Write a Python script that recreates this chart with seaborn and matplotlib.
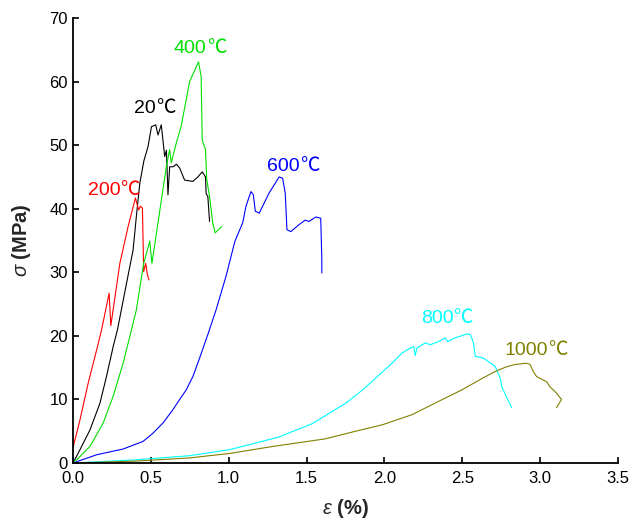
"""Stress-strain curves of specimens after exposure to different temperatures."""

import matplotlib
matplotlib.use("Agg")
import matplotlib.pyplot as plt
import pandas as pd
import seaborn as sns

# strain (%) / stress (MPa), one pair of lists per temperature
strain_20 = [0, 0.045, 0.109, 0.173, 0.215, 0.258, 0.286, 0.344, 0.386, 0.407, 0.429,
             0.455, 0.482, 0.504, 0.531, 0.546, 0.567, 0.589, 0.6, 0.61, 0.621,
             0.642, 0.665, 0.685, 0.717, 0.77, 0.802, 0.83, 0.851, 0.855, 0.866, 0.877]
stress_20 = [0, 2.1, 5.2, 9.4, 13.6, 18.3, 21.0, 28.3, 33.5, 38.8, 44.0,
             47.5, 49.8, 52.9, 53.2, 51.6, 53.2, 48.2, 49.2, 42.2, 46.6,
             46.6, 47.0, 46.4, 44.5, 44.3, 45.0, 45.8, 45.0, 42.4, 41.9, 38.0]

strain_200 = [0, 0.045, 0.098, 0.152, 0.184, 0.232, 0.243, 0.301, 0.354, 0.401,
              0.422, 0.433, 0.446, 0.454, 0.467, 0.478, 0.488]
stress_200 = [2.4, 6.8, 12.6, 17.8, 21.0, 26.7, 21.6, 31.4, 37.2, 41.7,
              39.8, 40.4, 40.1, 30.1, 31.4, 29.6, 28.8]

strain_400 = [0, 0.024, 0.109, 0.194, 0.258, 0.322, 0.376, 0.407, 0.454, 0.493,
              0.507, 0.546, 0.6, 0.621, 0.631, 0.663, 0.695, 0.749, 0.806, 0.823,
              0.83, 0.851, 0.859, 0.877, 0.898, 0.913, 0.955]
stress_400 = [0.2, 0.5, 2.6, 6.3, 10.5, 15.7, 21.0, 24.1, 31.4, 34.9,
              31.4, 37.8, 46.7, 49.3, 47.2, 50.3, 53.0, 60.0, 63.1, 60.8,
              50.8, 49.3, 44.6, 41.9, 37.7, 36.2, 37.2]

strain_600 = [0, 0.152, 0.322, 0.45, 0.514, 0.578, 0.642, 0.685, 0.727, 0.77,
              0.813, 0.87, 0.919, 0.983, 1.04, 1.09, 1.111, 1.143, 1.158, 1.171,
              1.196, 1.26, 1.324, 1.346, 1.363, 1.374, 1.399, 1.452, 1.491, 1.516,
              1.559, 1.591, 1.598, 1.598]
stress_600 = [0, 1.3, 2.2, 3.4, 4.7, 6.3, 8.4, 10.0, 11.5, 13.6,
              16.5, 20.5, 24.1, 29.4, 34.9, 37.8, 40.4, 42.7, 42.2, 39.6,
              39.3, 42.5, 45.0, 44.8, 42.5, 36.7, 36.4, 37.5, 38.2, 38.0,
              38.7, 38.5, 32.0, 29.9]

strain_800 = [0, 0.4, 0.749, 1.005, 1.15, 1.324, 1.537, 1.751, 1.86, 1.964,
              2.04, 2.113, 2.167, 2.188, 2.198, 2.209, 2.263, 2.295, 2.348, 2.391,
              2.406, 2.455, 2.529, 2.551, 2.572, 2.583, 2.636, 2.711, 2.743, 2.753,
              2.817]
stress_800 = [0, 0.5, 1.15, 2.1, 3.0, 4.1, 6.2, 9.4, 11.5, 13.8,
              15.5, 17.3, 18.1, 18.3, 16.9, 18.1, 18.9, 18.6, 19.1, 19.7,
              19.1, 19.7, 20.3, 20.2, 18.9, 16.8, 16.5, 15.2, 13.4, 12.0,
              8.7]

strain_1000 = [0, 0.4, 0.749, 1.005, 1.281, 1.62, 1.815, 1.985, 2.177, 2.348,
               2.497, 2.62, 2.711, 2.78, 2.839, 2.913, 2.935, 2.956, 2.977, 3.009,
               3.041, 3.063, 3.105, 3.137, 3.105]
stress_1000 = [0, 0.3, 0.8, 1.5, 2.6, 3.8, 5.0, 6.0, 7.6, 9.7,
               11.5, 13.2, 14.4, 15.1, 15.5, 15.7, 15.5, 14.4, 13.6, 13.2,
               12.8, 12.0, 11.0, 10.0, 8.7]

temps = ["20", "200", "400", "600", "800", "1000"]
colors = ["#000000", "#ff0000", "#00e000", "#0000ff", "#00ffff", "#808000"]

# label anchor: where the number ends and the ℃ sign starts, on the text baseline
label_x = [0.531, 0.305, 0.859, 1.457, 2.444, 3.048]
label_y = [55.1, 42.2, 64.5, 45.9, 22.0, 17.0]

curves = [(strain_20, stress_20), (strain_200, stress_200), (strain_400, stress_400),
          (strain_600, stress_600), (strain_800, stress_800), (strain_1000, stress_1000)]
frames = []
for t, (e, s) in zip(temps, curves):
    frames.append(pd.DataFrame({"strain": e, "stress": s, "temp": t}))
df = pd.concat(frames, ignore_index=True)

sns.set_style("ticks")
plt.rcParams["font.family"] = ["Liberation Sans", "Noto Sans CJK SC", "DejaVu Sans"]
plt.rcParams["mathtext.fontset"] = "custom"
plt.rcParams["mathtext.it"] = "Liberation Sans:italic"
plt.rcParams["mathtext.rm"] = "Liberation Sans"

fig = plt.figure(figsize=(6.33, 5.22), dpi=100)
ax = fig.add_axes([0.1153, 0.113, 0.861, 0.8525])

sns.lineplot(data=df, x="strain", y="stress", hue="temp", hue_order=temps,
             palette=dict(zip(temps, colors)), sort=False, estimator=None,
             linewidth=0.8, legend=False, ax=ax)

for t, c, x, y in zip(temps, colors, label_x, label_y):
    ax.text(x, y, t, color=c, fontsize=14, ha="right", va="baseline",
            family="Liberation Sans")
    ax.text(x, y, "℃", color=c, fontsize=14, ha="left", va="baseline",
            family="Noto Sans CJK SC")

ax.set_xlim(0, 3.5)
ax.set_ylim(0, 70)
ax.set_xticks([0, 0.5, 1.0, 1.5, 2.0, 2.5, 3.0, 3.5])
ax.set_xticklabels(["0.0", "0.5", "1.0", "1.5", "2.0", "2.5", "3.0", "3.5"])
ax.set_yticks(range(0, 71, 10))
ax.tick_params(direction="in", length=4, width=1.2, labelsize=12, colors="black")
ax.tick_params(axis="x", pad=6)
for side in ["left", "bottom"]:
    ax.spines[side].set_linewidth(1.3)
    ax.spines[side].set_color("black")
sns.despine(ax=ax)

ax.set_xlabel(r"$\varepsilon$ (%)", fontsize=14.5, fontweight="bold", labelpad=8)
ax.set_ylabel(r"$\sigma$ (MPa)", fontsize=14.5, fontweight="bold", labelpad=12)

fig.savefig("out.png", dpi=100)
